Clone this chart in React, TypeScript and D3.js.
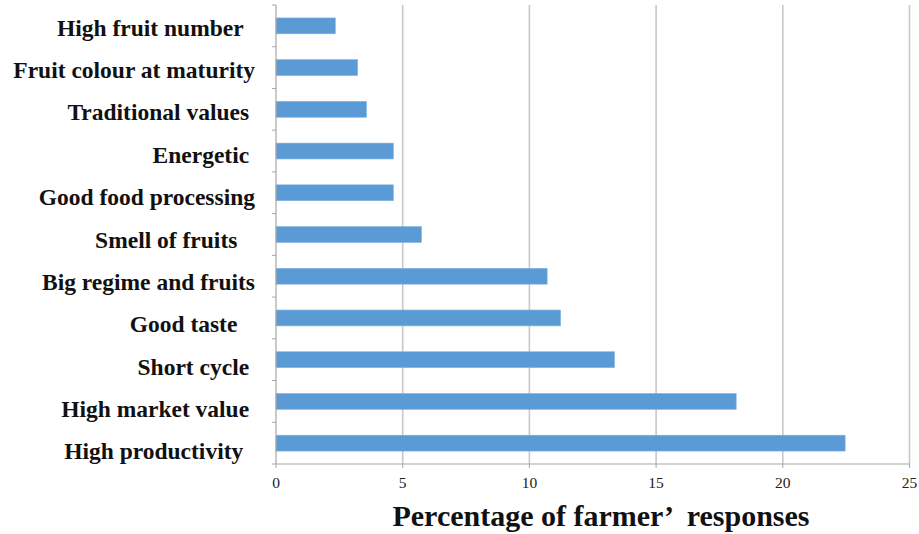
import React from "react";
import * as d3 from "d3";

const categories = [
  "High fruit number  ",
  "Fruit colour at maturity",
  "Traditional values ",
  "Energetic ",
  "Good food processing",
  "Smell of fruits   ",
  "Big regime and fruits",
  "Good taste   ",
  "Short cycle ",
  "High market value ",
  "High productivity  ",
];
const values = [2.34, 3.22, 3.57, 4.63, 4.63, 5.74, 10.7, 11.23, 13.36, 18.16, 22.46];
const xTicks = [0, 5, 10, 15, 20, 25];
const xTitle = "Percentage of farmer\u2019  responses";

export default function App() {
  const W = 919, H = 534;
  const left = 276, right = 909.5, top = 5, bottom = 464;
  const x = d3.scaleLinear().domain([0, 25]).range([left, right]);
  const y = d3.scaleBand().domain(categories).range([top, bottom]).paddingInner(0.62).paddingOuter(0.31);
  const yl = d3.scaleBand().domain(categories).range([top + 2, bottom + 9]);
  const serif = "'Liberation Serif', 'Times New Roman', serif";
  const boundaries = d3.range(categories.length + 1).map((i) => top + (i * (bottom - top)) / categories.length);
  return (
    <svg width={W} height={H} style={{ position: "absolute", left: 0, top: 0, background: "#fff" }}>
      {xTicks.filter((t) => t > 0).map((t) => (
        <line key={"g" + t} x1={x(t)} x2={x(t)} y1={top} y2={bottom} stroke="#c8c8c8" strokeWidth={1.6} />
      ))}
      {categories.map((c, i) => (
        <rect key={c} x={x(0)} y={y(c)} width={x(values[i]) - x(0)} height={y.bandwidth()} fill="#5b9bd5" stroke="#7fb1e0" strokeWidth={0.6} />
      ))}
      <line x1={left} x2={left} y1={top} y2={bottom} stroke="#a6a6a6" strokeWidth={1.2} />
      {boundaries.map((b, i) => (
        <line key={"yt" + i} x1={left - 4} x2={left} y1={b} y2={b} stroke="#a6a6a6" strokeWidth={1} />
      ))}
      <line x1={left} x2={right} y1={bottom} y2={bottom} stroke="#a6a6a6" strokeWidth={1.2} />
      {xTicks.map((t) => (
        <g key={"t" + t}>
          <line x1={x(t)} x2={x(t)} y1={bottom} y2={bottom + 4} stroke="#a6a6a6" strokeWidth={1} />
          <text x={x(t)} y={488} textAnchor="middle" fontFamily={serif} fontSize={15.5} fill="#222">{t}</text>
        </g>
      ))}
      {categories.map((c) => (
        <text key={"l" + c} x={255} y={(yl(c) as number) + yl.bandwidth() / 2 + 7.5} textAnchor="end" fontFamily={serif} fontWeight="bold" fontSize={23.5} fill="#111" style={{ whiteSpace: "pre" }}>{c}</text>
      ))}
      <text x={601} y={526} textAnchor="middle" fontFamily={serif} fontWeight="bold" fontSize={30} fill="#111" style={{ whiteSpace: "pre" }}>{xTitle}</text>
    </svg>
  );
}
